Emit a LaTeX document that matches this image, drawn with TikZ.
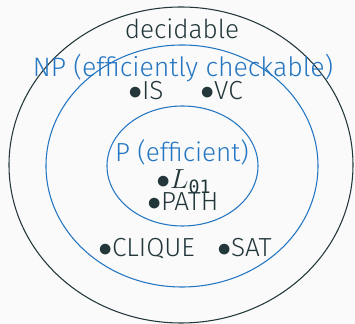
\documentclass[tikz,border=0pt]{standalone}
\usepackage{fontspec}
\setmainfont{Fira Sans Light}
\setmonofont{DejaVu Sans Mono}
\usepackage{amsmath}

\definecolor{bgwhite}{HTML}{FAFAFA}
\definecolor{darkteal}{HTML}{23373B}
\definecolor{setblue}{HTML}{2476C2}

\begin{document}
\begin{tikzpicture}[x=0.75pt, y=-0.75pt,
    every node/.style={inner sep=0pt, text=darkteal, text height=1.4ex, text depth=0.1ex},
    settext/.style={font=\fontsize{19.6}{22}\selectfont},
    bluetext/.style={text=setblue}]
  \fill [bgwhite] (0, 0) rectangle (355, 324);
  \useasboundingbox (0, 0) rectangle (355, 324);

  \draw [darkteal, line width=0.8pt] (181, 165) ellipse [x radius=172, y radius=158];
  \draw [setblue, line width=0.8pt] (182, 166) ellipse [x radius=136, y radius=121];
  \draw [setblue, line width=0.8pt] (182.5, 166) ellipse [x radius=75.5, y radius=60];

  \node (dec) at (182, 39) [settext, anchor=base] {decidable};
  \node (np) at (183, 77) [settext, bluetext, anchor=base, font=\fontsize{20}{22}\selectfont] {NP (efficiently checkable)};
  \node (p) at (182, 162) [settext, bluetext, anchor=base] {P (efficient)};

  \node (is) at (128, 100) [settext, anchor=base west] {$\bullet$IS};
  \node (vc) at (200, 100) [settext, anchor=base west] {$\bullet$VC};
  \node (l01) at (156, 189) [settext, anchor=base west] {$\bullet L_{\texttt{01}}$};
  \node (path) at (147, 211) [settext, anchor=base west] {$\bullet$PATH};
  \node (clique) at (98, 257) [settext, anchor=base west] {$\bullet$CLIQUE};
  \node (sat) at (217, 257) [settext, anchor=base west] {$\bullet$SAT};
\end{tikzpicture}
\end{document}
